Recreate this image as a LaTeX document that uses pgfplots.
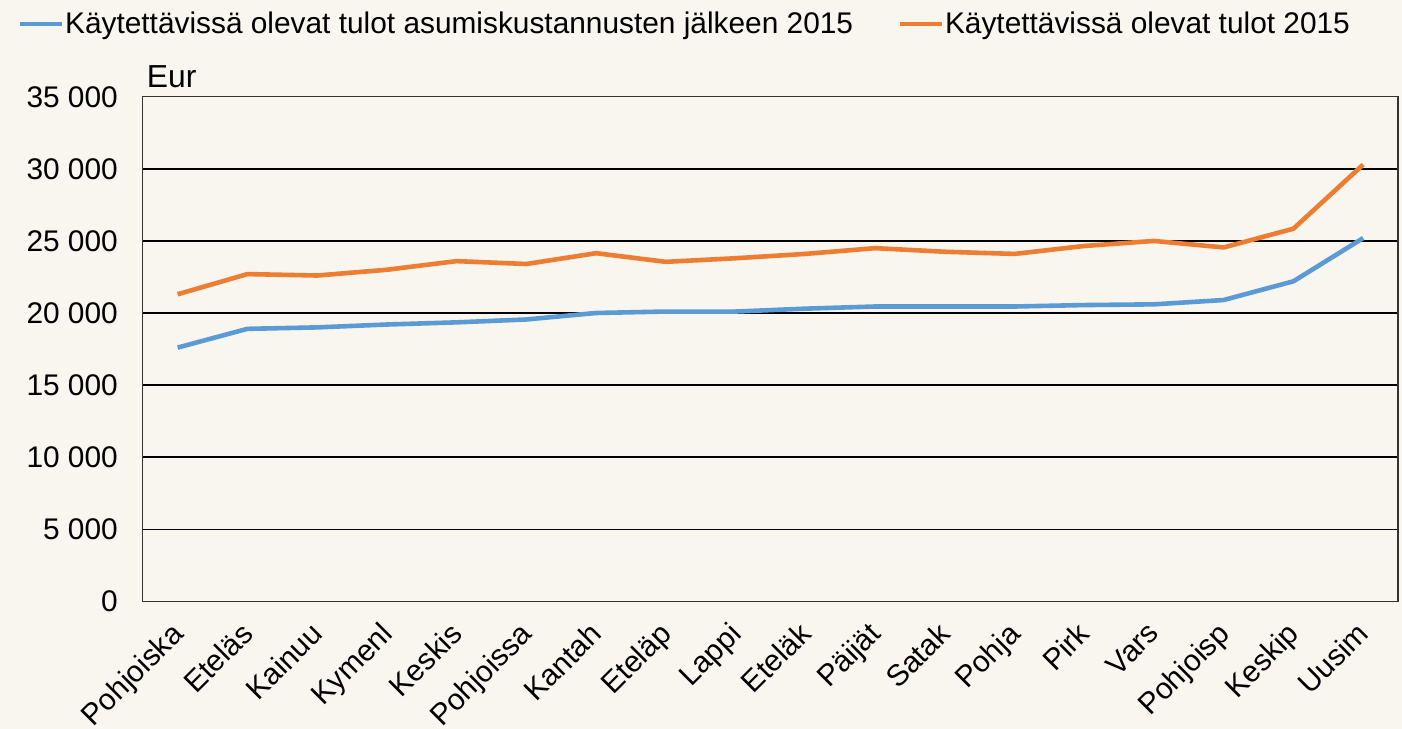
\documentclass[border=0pt]{standalone}
\usepackage{pgfplots}
\pgfplotsset{compat=1.18}
\usepackage{fontspec}
\setmainfont{Liberation Sans}
\definecolor{bg}{HTML}{F9F5EF}
\definecolor{cblue}{HTML}{5B9BD5}
\definecolor{corange}{HTML}{ED7D31}
\begin{document}
\begin{tikzpicture}[x=1bp,y=1bp]
\path[use as bounding box, fill=bg] (-71.5,-64) rectangle (630.5,301);
\begin{axis}[
  at={(0,0)}, anchor=south west,
  scale only axis, width=628.5bp, height=252.5bp,
  xmin=-0.5, xmax=17.5, ymin=0, ymax=35000,
  xtick=data,
  xticklabels={Pohjoiska,Eteläs,Kainuu,Kymenl,Keskis,Pohjoissa,Kantah,Eteläp,Lappi,Eteläk,Päijät,Satak,Pohja,Pirk,Vars,Pohjoisp,Keskip,Uusim},
  x tick label style={xshift=-4bp, yshift=-9.5bp, rotate=45, anchor=north east, inner sep=0bp, font=\fontsize{15}{16}\selectfont},
  ytick={0,5000,...,35000},
  y tick label style={font=\fontsize{15}{16}\selectfont, xshift=-9bp},
  scaled y ticks=false,
  /pgf/number format/.cd, assume math mode=true, 1000 sep={\ }, /pgfplots/.cd,
  ymajorgrids, grid style={black, line width=0.6bp},
  axis line style={black!80, line width=0.6bp},
  major tick length=0pt,
  axis background/.style={fill=bg},
  legend style={at={(0.5,1.0)}, anchor=south, yshift=28bp, xshift=-43bp, draw=none, fill=none,
    legend columns=2, font=\fontsize{15}{16}\selectfont, inner sep=0pt,
    nodes={inner xsep=0.5bp},
    /tikz/every even column/.append style={column sep=22bp}},
  legend image code/.code={\draw[#1, line width=2bp] (0,0) -- (21bp,0);},
  clip=false,
]
\addplot[cblue, line width=2.3bp] coordinates {
(0,17600)(1,18900)(2,19000)(3,19200)(4,19350)(5,19550)(6,20000)(7,20100)(8,20100)(9,20300)(10,20450)(11,20450)(12,20450)(13,20550)(14,20600)(15,20900)(16,22200)(17,25200)};
\addlegendentry{Käytettävissä olevat tulot asumiskustannusten jälkeen 2015}
\addplot[corange, line width=2.3bp] coordinates {
(0,21300)(1,22700)(2,22600)(3,23000)(4,23600)(5,23400)(6,24150)(7,23550)(8,23800)(9,24100)(10,24500)(11,24250)(12,24100)(13,24650)(14,25000)(15,24550)(16,25850)(17,30300)};
\addlegendentry{Käytettävissä olevat tulot 2015}
\node[anchor=south west, inner sep=0pt, font=\fontsize{16}{17}\selectfont] at (rel axis cs:0.003,1.018) {Eur};
\end{axis}
\end{tikzpicture}
\end{document}
